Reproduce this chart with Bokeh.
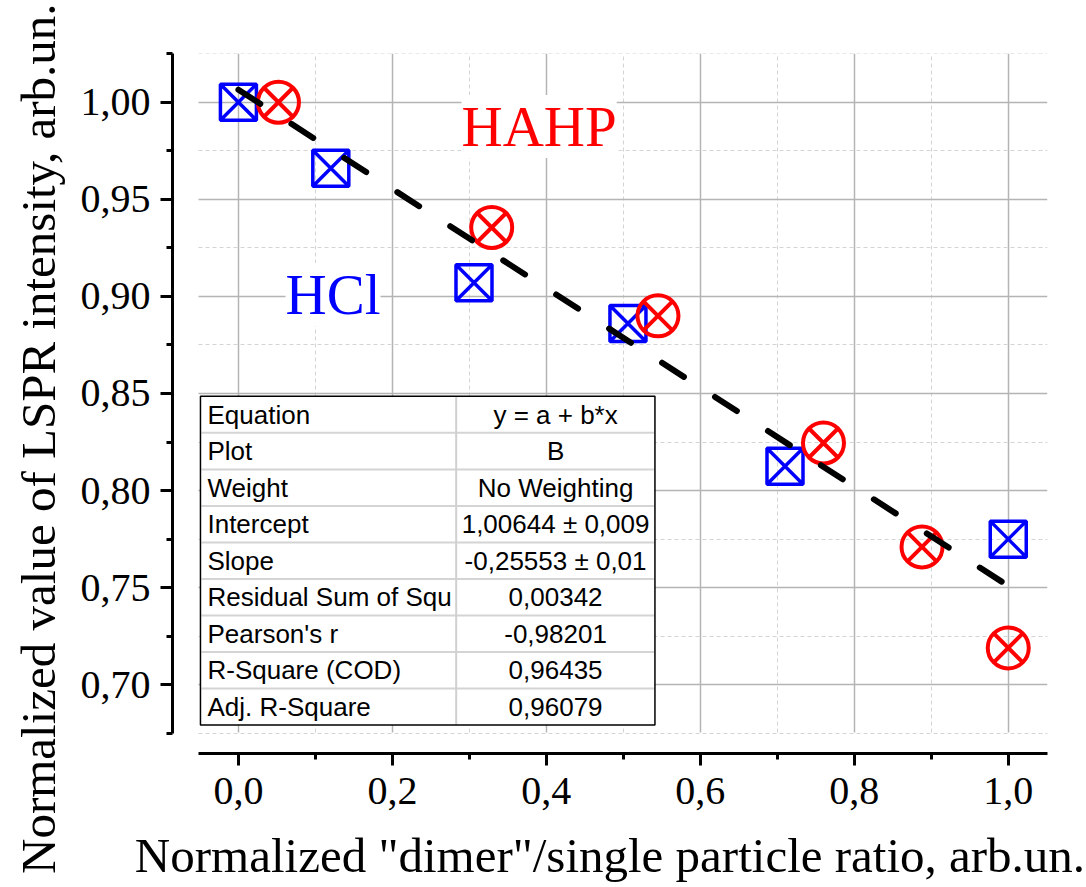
import math
from bokeh.plotting import figure
from bokeh.models import Range1d, FixedTicker, Label, Title
from bokeh.core.properties import value
from bokeh.embed import file_html
from bokeh.resources import INLINE

# ---------------- data ----------------
hcl_x = [0.000, 0.120, 0.306, 0.506, 0.710, 1.000]
hcl_y = [1.000, 0.966, 0.907, 0.886, 0.8125, 0.775]

hahp_x = [0.052, 0.329, 0.545, 0.760, 0.888, 1.000]
hahp_y = [1.000, 0.9355, 0.890, 0.8245, 0.771, 0.719]

fit_intercept = 1.00644
fit_slope = -0.25553
fit_x = [0.0, 1.0]

x_ticks = [0.0, 0.2, 0.4, 0.6, 0.8, 1.0]
x_tick_labels = ["0,0", "0,2", "0,4", "0,6", "0,8", "1,0"]
x_minor_ticks = [0.1, 0.3, 0.5, 0.7, 0.9]

y_ticks = [0.70, 0.75, 0.80, 0.85, 0.90, 0.95, 1.00]
y_tick_labels = ["0,70", "0,75", "0,80", "0,85", "0,90", "0,95", "1,00"]
y_minor_ticks = [0.675, 0.725, 0.775, 0.825, 0.875, 0.925, 0.975, 1.025]

table_names = ["Equation", "Plot", "Weight", "Intercept", "Slope",
               "Residual Sum of Squ", "Pearson's r", "R-Square (COD)", "Adj. R-Square"]
table_values = ["y = a + b*x", "B", "No Weighting", "1,00644 \u00b1 0,009",
                "-0,25553 \u00b1 0,01", "0,00342", "-0,98201", "0,96435", "0,96079"]

x_title = 'Normalized "dimer"/single particle ratio, arb.un.'
y_title = "Normalized value of LSPR intensity, arb.un."

fit_y = [fit_intercept + fit_slope * v for v in fit_x]

# ---------------- layout helpers (pixel -> data) ----------------
def dx(px):
    return (px - 237.0) / 770.7

def dy(py):
    return 1.0 - (py - 101.7) / 1941.0

SERIF = "Liberation Serif"
SANS = "Liberation Sans"

p = figure(width=1086, height=887,
           x_range=Range1d(dx(171), dx(1047)),
           y_range=Range1d(dy(752.7), dy(53)),
           output_backend="svg", toolbar_location=None,
           min_border_left=171, min_border_right=39,
           min_border_top=53, min_border_bottom=134)
p.outline_line_color = None
p.background_fill_color = "white"
p.border_fill_color = "white"

# ---------------- axes ----------------
xa = p.xaxis[0]
ya = p.yaxis[0]
xa.ticker = FixedTicker(ticks=x_ticks, minor_ticks=x_minor_ticks)
ya.ticker = FixedTicker(ticks=y_ticks, minor_ticks=y_minor_ticks)
xa.major_label_overrides = dict(zip(x_ticks, x_tick_labels))
ya.major_label_overrides = dict(zip(y_ticks, y_tick_labels))
xa.bounds = (dx(197), dx(1047))
ya.bounds = (0.6749, 1.0252)

for ax in (xa, ya):
    ax.axis_line_width = 3
    ax.axis_line_color = "black"
    ax.major_tick_out = 12
    ax.major_tick_in = 0
    ax.minor_tick_out = 6
    ax.minor_tick_in = 0
    ax.major_tick_line_width = 3
    ax.minor_tick_line_width = 3
    ax.major_tick_line_color = "black"
    ax.minor_tick_line_color = "black"
    ax.major_label_text_font = SERIF
    ax.major_label_text_font_size = "40px"
    ax.major_label_text_color = "black"
    ax.major_label_standoff = 10
xa.major_label_standoff = 12

xa.axis_label = x_title
xa.axis_label_text_font = SERIF
xa.axis_label_text_font_size = "49px"
xa.axis_label_text_font_style = "normal"
xa.axis_label_text_color = "black"
xa.axis_label_standoff = 21

# ---------------- grid ----------------
for g in (p.xgrid[0], p.ygrid[0]):
    g.grid_line_color = "#b4b4b4"
    g.grid_line_width = 1.5
    g.minor_grid_line_color = "#d4d4d4"
    g.minor_grid_line_width = 1
    g.minor_grid_line_dash = "4 3"

if hasattr(p.xgrid[0], "cross_bounds"):
    p.xgrid[0].cross_bounds = (dy(732), dy(53))
    p.ygrid[0].cross_bounds = (dx(197), dx(1047))

# ---------------- data glyphs ----------------
p.scatter(hcl_x, hcl_y, marker="square_x", size=36, fill_color=None,
          line_color="#0000ff", line_width=3.5)
p.scatter(hahp_x, hahp_y, marker="circle", size=41, fill_color=None,
          line_color="#ff0000", line_width=4)
p.scatter(hahp_x, hahp_y, marker="x", size=41, fill_color=None,
          line_color="#ff0000", line_width=4)
p.line(fit_x, fit_y, line_color="black", line_width=6,
       line_dash="26 37", line_cap="round")

# ---------------- fit table ----------------
T_L, T_R, T_DIV, T_TOP, T_ROW = 199, 654, 455, 395.7, 36.5
n_rows = len(table_names)
T_BOT = T_TOP + T_ROW * n_rows

p.quad(left=[dx(T_L)], right=[dx(T_R)], top=[dy(T_TOP)], bottom=[dy(T_BOT)],
       fill_color="white", line_color=None)
sep_y = [dy(T_TOP + T_ROW * i) for i in range(1, n_rows)]
p.segment(x0=[dx(T_L + 1)] * len(sep_y), x1=[dx(T_R - 1)] * len(sep_y),
          y0=sep_y, y1=sep_y, line_color="#d4d4d4", line_width=2)
p.segment(x0=[dx(T_DIV)], x1=[dx(T_DIV)], y0=[dy(T_TOP)], y1=[dy(T_BOT)],
          line_color="#d0d0d0", line_width=2)
p.quad(left=[dx(T_L)], right=[dx(T_R)], top=[dy(T_TOP)], bottom=[dy(T_BOT)],
       fill_color=None, line_color="black", line_width=1.5)

row_y = [dy(T_TOP + T_ROW * (i + 0.5)) for i in range(n_rows)]
p.text(x=[dx(206)] * n_rows, y=row_y, text=table_names,
       text_font=value(SANS), text_font_size="26px", text_color="black",
       text_align="left", text_baseline="middle")
p.text(x=[dx(554.5)] * n_rows, y=row_y, text=table_values,
       text_font=value(SANS), text_font_size="26px", text_color="black",
       text_align="center", text_baseline="middle")

# ---------------- series labels ----------------
p.add_layout(Label(x=dx(538), y=dy(126), text="HAHP", text_color="#ff0000",
                   text_font=SERIF, text_font_size="57px",
                   text_align="center", text_baseline="middle",
                   background_fill_color="white"))
p.add_layout(Label(x=dx(331.7), y=dy(294), text="HCl", text_color="#0000ff",
                   text_font=SERIF, text_font_size="57px",
                   text_align="center", text_baseline="middle",
                   background_fill_color="white"))

# ---------------- y title (vertical, shifted down like the reference) ----------------
p.add_layout(Title(text=y_title, align="right", offset=-50,
                   vertical_align="top",
                   text_font=SERIF, text_font_size="49px",
                   text_font_style="normal", text_color="black",
                   standoff=20), "left")

open("out.html", "w").write(file_html(p, INLINE))
